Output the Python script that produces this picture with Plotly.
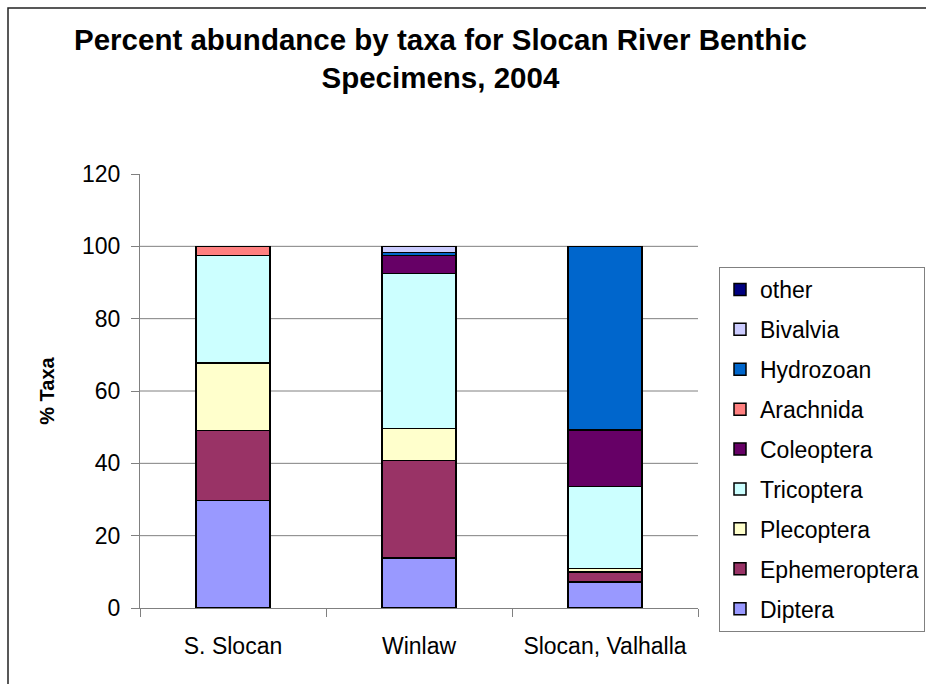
import plotly.graph_objects as go

sites = ["S. Slocan", "Winlaw", "Slocan, Valhalla"]

taxa = ["Diptera", "Ephemeroptera", "Plecoptera", "Tricoptera", "Coleoptera",
        "Arachnida", "Hydrozoan", "Bivalvia", "other"]

diptera = [29.7, 13.8, 7.2]
ephemeroptera = [19.4, 27.0, 2.8]
plecoptera = [18.7, 8.8, 0.9]
tricoptera = [29.7, 42.9, 22.7]
coleoptera = [None, 5.0, 15.6]
arachnida = [2.5, None, None]
hydrozoan = [None, 0.8, 50.8]
bivalvia = [None, 1.7, None]
other = [None, None, None]

series = [diptera, ephemeroptera, plecoptera, tricoptera, coleoptera,
          arachnida, hydrozoan, bivalvia, other]

colors = ["#9999FF", "#993366", "#FFFFCC", "#CCFFFF", "#660066",
          "#FF8080", "#0066CC", "#CCCCFF", "#000080"]

y_ticks = [0, 20, 40, 60, 80, 100, 120]

FONT = "Liberation Sans, Arial, sans-serif"

L, R, T, B = 140, 228, 174, 76
PW = 926 - L - R
PH = 684 - T - B


def px_x(px):
    return (px - L) / PW


def px_y(py):
    return (684 - B - py) / PH


fig = go.Figure()
n = len(taxa)
for i, (name, vals, col) in enumerate(zip(taxa, series, colors)):
    fig.add_trace(go.Bar(
        name=name, x=sites, y=vals, legendgroup=name,
        legendrank=1000 - i,
        marker=dict(color=col, line=dict(color="black", width=1.5)),
    ))

# gridlines (none at the top value)
shapes = []
for v in y_ticks[1:-1]:
    shapes.append(dict(type="line", xref="paper", yref="y", x0=0, x1=1, y0=v, y1=v,
                       line=dict(color="#808080", width=1), layer="below"))
# outer chart border
shapes.append(dict(type="rect", xref="paper", yref="paper",
                   x0=px_x(8), x1=px_x(960), y0=px_y(720), y1=px_y(8),
                   line=dict(color="#222222", width=1.5), layer="below"))

fig.update_layout(
    width=926, height=684,
    margin=dict(l=L, r=R, t=T, b=B, autoexpand=False),
    paper_bgcolor="white", plot_bgcolor="white",
    barmode="stack", bargap=0.6,
    font=dict(family=FONT, color="black", size=23),
    annotations=[dict(
        text="<b>Percent abundance by taxa for Slocan River Benthic<br>Specimens, 2004</b>",
        x=px_x(440), xanchor="center", xref="paper",
        y=px_y(21), yanchor="top", yref="paper",
        showarrow=False, align="center",
        font=dict(family=FONT, size=29.5, color="black"),
    )],
    xaxis=dict(
        showline=True, linecolor="#808080", linewidth=1,
        ticks="outside", tickson="boundaries", ticklen=8, tickcolor="#808080",
        tickfont=dict(size=23), ticklabelstandoff=17,
        showgrid=False, range=[-0.5, 2.5],
    ),
    yaxis=dict(
        range=[0, 120], tickvals=y_ticks, showgrid=False, zeroline=False,
        showline=True, linecolor="#808080", linewidth=1,
        ticks="outside", ticklen=8, tickcolor="#808080",
        tickfont=dict(size=23), ticklabelstandoff=6,
        title=dict(text="<b>% Taxa</b>", font=dict(size=20), standoff=22),
    ),
    legend=dict(
        x=px_x(719), xanchor="left",
        y=px_y(267), yanchor="top",
        traceorder="grouped", tracegroupgap=7,
        bordercolor="#808080", borderwidth=1, bgcolor="white",
        font=dict(size=23),
    ),
    shapes=shapes,
)

fig.write_html("out.html")
